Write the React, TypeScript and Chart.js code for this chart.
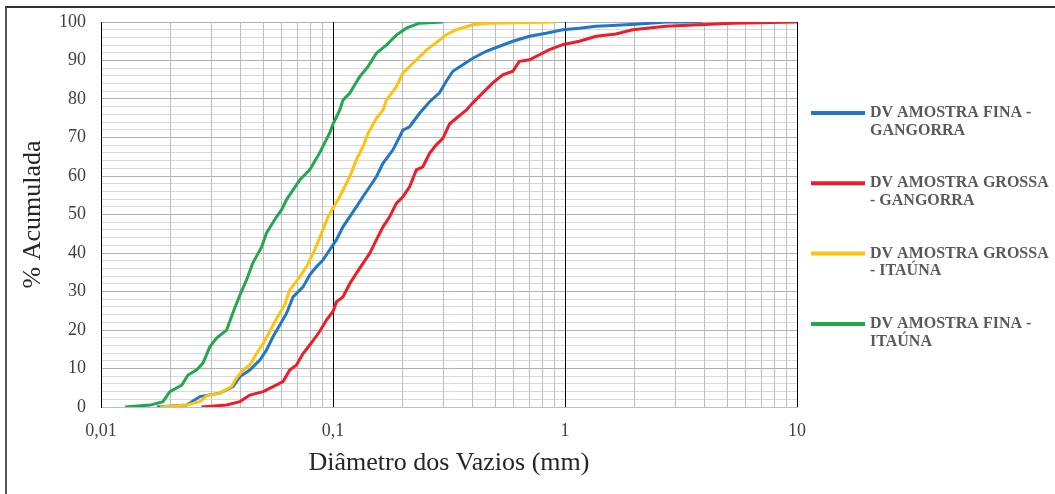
import { useEffect, useRef } from 'react';
import { Chart, registerables } from 'chart.js';

Chart.register(...registerables);

// Void diameter (mm) vs. cumulative percentage for each sample
const finaGangorraD = [0.0174, 0.0234, 0.0267, 0.0325, 0.0371, 0.0397, 0.0438, 0.0484, 0.0517, 0.0552, 0.059, 0.063, 0.0673, 0.0743, 0.0794, 0.0848, 0.0906, 0.0968, 0.1034, 0.1104, 0.118, 0.1261, 0.1346, 0.1439, 0.1538, 0.1642, 0.1813, 0.1937, 0.2001, 0.2139, 0.2362, 0.2608, 0.2879, 0.3077, 0.3285, 0.3627, 0.4006, 0.4575, 0.522, 0.596, 0.703, 0.829, 0.977, 1.153, 1.361, 1.604, 2.091, 2.724, 3.9];
const finaGangorraPct = [0, 0.5, 2.7, 3.6, 5.3, 7.9, 9.6, 12.2, 14.8, 18.3, 21.3, 24.3, 28.6, 31.2, 34.3, 36.4, 38.2, 40.8, 43.4, 46.8, 49.4, 52.0, 54.6, 57.2, 59.8, 63.3, 66.8, 70.2, 71.9, 72.8, 76.3, 79.3, 81.6, 84.6, 87.2, 88.9, 90.6, 92.4, 93.7, 95.0, 96.3, 97.1, 98.0, 98.4, 98.9, 99.1, 99.5, 100, 100];

const grossaGangorraD = [0.0271, 0.0348, 0.0397, 0.0438, 0.05, 0.0552, 0.0609, 0.0651, 0.0696, 0.0743, 0.0794, 0.0876, 0.0937, 0.1, 0.1034, 0.1104, 0.118, 0.1261, 0.1346, 0.1439, 0.1538, 0.1642, 0.1754, 0.1875, 0.2001, 0.2139, 0.2286, 0.244, 0.2608, 0.2787, 0.2975, 0.3179, 0.3398, 0.3752, 0.4006, 0.4422, 0.4884, 0.539, 0.596, 0.636, 0.703, 0.776, 0.857, 0.977, 1.153, 1.361, 1.66, 1.956, 2.724, 3.79, 5.26, 10];
const grossaGangorraPct = [0, 0.5, 1.4, 3.1, 4.0, 5.3, 6.6, 9.6, 10.9, 13.9, 16.1, 19.6, 22.6, 24.8, 27.3, 28.6, 32.0, 34.7, 37.3, 39.9, 43.4, 46.8, 49.4, 52.9, 54.6, 57.2, 61.6, 62.4, 65.9, 68.1, 69.8, 73.5, 75.0, 77.1, 79.0, 81.6, 84.2, 86.3, 87.2, 89.8, 90.2, 91.5, 92.8, 94.1, 95.0, 96.3, 96.9, 98.0, 98.9, 99.3, 99.7, 100];

const grossaItaunaD = [0.018, 0.0234, 0.0267, 0.0285, 0.0325, 0.0365, 0.0384, 0.041, 0.0438, 0.0468, 0.05, 0.0534, 0.0571, 0.0619, 0.0651, 0.0719, 0.0768, 0.0834, 0.0892, 0.0952, 0.1, 0.1069, 0.118, 0.1261, 0.1346, 0.1415, 0.1538, 0.1642, 0.1698, 0.1875, 0.2001, 0.221, 0.2524, 0.2879, 0.3077, 0.3398, 0.4006, 0.4727, 0.9];
const grossaItaunaPct = [0, 0.5, 1.4, 2.9, 3.6, 5.3, 7.5, 9.6, 10.9, 13.9, 16.5, 19.6, 23.0, 26.5, 30.4, 33.8, 36.4, 40.8, 45.1, 49.4, 51.6, 54.6, 59.8, 64.2, 67.6, 71.0, 75.0, 77.1, 79.7, 83.2, 86.7, 89.3, 92.7, 95.3, 96.7, 98.0, 99.3, 99.7, 100];

const finaItaunaD = [0.0127, 0.0163, 0.0185, 0.0198, 0.0223, 0.0237, 0.0258, 0.0275, 0.0295, 0.0315, 0.0348, 0.037, 0.0397, 0.0424, 0.0451, 0.0492, 0.0517, 0.0571, 0.06, 0.063, 0.0673, 0.0719, 0.0794, 0.0876, 0.0968, 0.1, 0.1069, 0.1104, 0.118, 0.1303, 0.1415, 0.1538, 0.1698, 0.1875, 0.207, 0.2362, 0.2975];
const finaItaunaPct = [0, 0.5, 1.4, 4.0, 5.7, 8.3, 9.6, 11.4, 15.7, 17.9, 20.0, 24.4, 29.1, 33.0, 37.4, 41.5, 45.2, 49.4, 51.2, 53.8, 56.4, 59.0, 61.6, 66.0, 71.2, 73.5, 77.1, 79.7, 81.5, 85.8, 88.4, 91.9, 94.0, 96.6, 98.4, 99.7, 100];

const seriesLegendLines = [
  ['DV AMOSTRA FINA -', 'GANGORRA'],
  ['DV AMOSTRA GROSSA', '- GANGORRA'],
  ['DV AMOSTRA GROSSA', '- ITAÚNA'],
  ['DV AMOSTRA FINA -', 'ITAÚNA'],
];
const seriesColors = ['#1f77c6', '#ee1d27', '#ffc20e', '#22a84f'];

const xTickValues = [0.01, 0.1, 1, 10];
const xTickLabels = ['0,01', '0,1', '1', '10'];
const yTickLabels = ['0', '10', '20', '30', '40', '50', '60', '70', '80', '90', '100'];

const SERIF = '"Liberation Serif", "Times New Roman", serif';

const toPoints = (xs: number[], ys: number[]) => xs.map((x, i) => ({ x, y: ys[i] }));

const isDecade = (v: number) => {
  const l = Math.log10(v);
  return Math.abs(l - Math.round(l)) < 1e-6;
};

// Legend drawn to the right of the plot, with two-line labels
const sideLegend = {
  id: 'sideLegend',
  afterDraw(chart: any) {
    const { ctx, chartArea } = chart;
    const lineStart = chartArea.right + 14;
    const lineEnd = lineStart + 54;
    const textX = lineEnd + 5;
    ctx.save();
    chart.data.datasets.forEach((ds: any, i: number) => {
      const y = 113 + i * 70.3;
      ctx.strokeStyle = ds.borderColor;
      ctx.lineWidth = 4;
      ctx.lineCap = 'butt';
      ctx.beginPath();
      ctx.moveTo(lineStart, y);
      ctx.lineTo(lineEnd, y);
      ctx.stroke();
      ctx.fillStyle = '#595959';
      ctx.font = `bold 16px ${SERIF}`;
      ctx.textAlign = 'left';
      ctx.textBaseline = 'middle';
      seriesLegendLines[i].forEach((t, j) => ctx.fillText(t, textX, y + j * 17.5));
    });
    ctx.restore();
  },
};

export default function App() {
  const canvasRef = useRef<HTMLCanvasElement | null>(null);

  useEffect(() => {
    const canvas = canvasRef.current;
    if (!canvas) return;

    const series = [
      toPoints(finaGangorraD, finaGangorraPct),
      toPoints(grossaGangorraD, grossaGangorraPct),
      toPoints(grossaItaunaD, grossaItaunaPct),
      toPoints(finaItaunaD, finaItaunaPct),
    ];

    const chart = new Chart(canvas, {
      type: 'line',
      data: {
        datasets: series.map((data, i) => ({
          label: seriesLegendLines[i].join(' '),
          data,
          borderColor: seriesColors[i],
          backgroundColor: seriesColors[i],
          borderWidth: 3,
          pointRadius: 0,
          tension: 0,
          fill: false,
          order: 4 - i,
        })),
      },
      options: {
        responsive: false,
        animation: false,
        layout: { padding: { left: 0, top: 22, right: 258, bottom: 0 } },
        plugins: {
          legend: { display: false },
          tooltip: { enabled: false },
        },
        scales: {
          x: {
            type: 'logarithmic',
            min: 0.01,
            max: 10,
            afterFit: (s: any) => {
              s.height = 87;
            },
            afterBuildTicks: (s: any) => {
              const ticks: { value: number }[] = [];
              for (let e = -2; e <= 0; e++) {
                for (let m = 1; m <= 9; m++) ticks.push({ value: m * Math.pow(10, e) });
              }
              ticks.push({ value: 10 });
              s.ticks = ticks;
            },
            grid: {
              color: (c: any) => (isDecade(c.tick.value) ? '#000000' : '#bdbdbd'),
              lineWidth: 1,
              drawTicks: false,
              z: -1,
            },
            border: { color: '#bdbdbd' },
            ticks: {
              autoSkip: false,
              maxRotation: 0,
              padding: 13,
              color: '#404040',
              font: { family: SERIF, size: 18 },
              callback: (v: any) => {
                const idx = xTickValues.findIndex((t) => Math.abs(t - Number(v)) < 1e-9 * Math.max(1, t));
                return idx >= 0 ? xTickLabels[idx] : '';
              },
            },
            title: {
              display: true,
              text: 'Diâmetro dos Vazios (mm)',
              color: '#262626',
              font: { family: SERIF, size: 26 },
              padding: { top: 0, bottom: 15 },
            },
          },
          y: {
            type: 'linear',
            min: 0,
            max: 100,
            afterFit: (s: any) => {
              s.width = 101;
              s.paddingTop = 10;
              s.paddingBottom = 10;
            },
            grid: {
              color: (c: any) => (c.tick.value % 10 === 0 ? '#b0b0b0' : '#d9d9d9'),
              lineWidth: 1,
              drawTicks: false,
              z: -2,
            },
            border: { color: '#000000' },
            ticks: {
              stepSize: 2,
              autoSkip: false,
              padding: 15,
              color: '#404040',
              font: { family: SERIF, size: 18 },
              callback: (v: any) => (Number(v) % 10 === 0 ? yTickLabels[Number(v) / 10] : ''),
            },
            title: {
              display: true,
              text: '% Acumulada',
              color: '#262626',
              font: { family: SERIF, size: 26 },
              padding: { top: 18, bottom: 0 },
            },
          },
        },
      },
      plugins: [sideLegend],
    });

    return () => chart.destroy();
  }, []);

  return (
    <div
      style={{
        position: 'fixed',
        left: 0,
        top: 0,
        width: 1055,
        height: 494,
        overflow: 'hidden',
        background: '#ffffff',
      }}
    >
      <canvas ref={canvasRef} width={1055} height={494} style={{ display: 'block' }} />
      <div
        style={{
          position: 'absolute',
          left: 5,
          top: 6,
          width: 1100,
          height: 486,
          borderTop: '2px solid #333333',
          borderLeft: '2px solid #555555',
          borderBottom: '2px solid #777777',
          pointerEvents: 'none',
        }}
      />
    </div>
  );
}
